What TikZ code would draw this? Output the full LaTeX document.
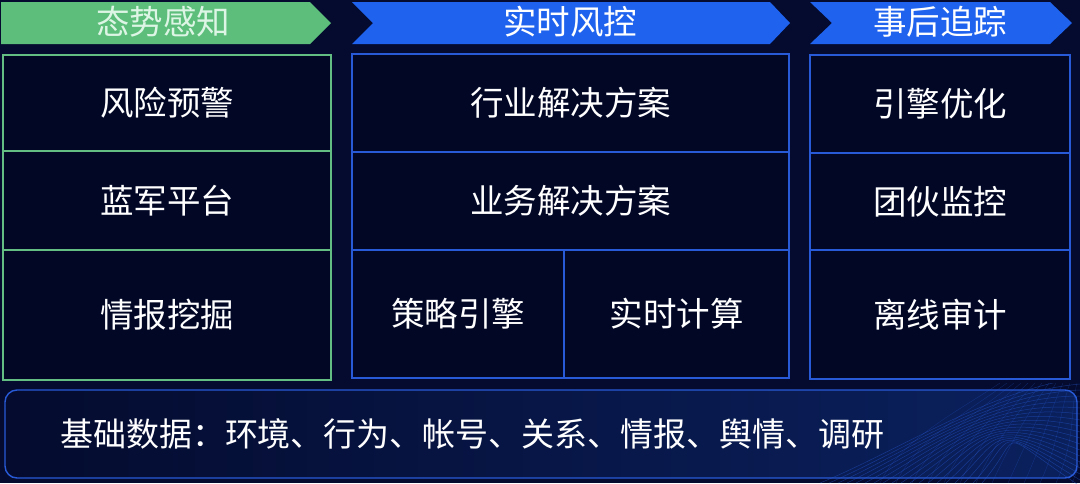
\documentclass[tikz,border=0pt]{standalone}
\usepackage{fontspec}
\setmainfont{Noto Sans CJK SC}
\definecolor{bgnavy}{RGB}{4,11,46}
\definecolor{cellnavy}{RGB}{2,7,38}
\definecolor{headgreen}{RGB}{92,190,122}
\definecolor{headblue}{RGB}{30,98,238}
\definecolor{linegreen}{RGB}{98,190,130}
\definecolor{lineblue}{RGB}{40,90,215}
\definecolor{mint}{RGB}{220,245,228}
\tikzset{
  cell/.style={draw, fill=cellnavy, text=white, inner sep=0pt,
    font=\fontsize{33.5}{36}\selectfont},
  greencell/.style={cell, draw=linegreen, line width=2.5pt},
  bluecell/.style={cell, draw=lineblue, line width=1.4pt},
  headtext/.style={text=white, font=\fontsize{33.5}{36}\selectfont}
}

\begin{document}
\begin{tikzpicture}[x=1pt,y=-1pt]
  \useasboundingbox (0,0) rectangle (1080,483);
  \fill[bgnavy] (0,0) rectangle (1080,483);
  % headers
  \fill[headgreen] (1,2) -- (310,2) -- (331,23) -- (310,44) -- (1,44) -- cycle;
  \node[headtext, text=mint] (tsgz) at (163,22) {态势感知};
  \fill[headblue] (352,2) -- (770,2) -- (790,23) -- (770,44) -- (352,44) -- (373,23) -- cycle;
  \node[headtext] (sshk) at (570,22) {实时风控};
  \fill[headblue] (810,2) -- (1050,2) -- (1072,23) -- (1050,44) -- (810,44) -- (832,23) -- cycle;
  \node[headtext] (shzz) at (940,22) {事后追踪};
  % left column
  \node[greencell, minimum width=328, minimum height=96]  (fxyj) at (167,103)   {风险预警};
  \node[greencell, minimum width=328, minimum height=99]  (ljpt) at (167,200.5) {蓝军平台};
  \node[greencell, minimum width=328, minimum height=130] (qbwj) at (167,315)   {情报挖掘};
  % middle column
  \node[bluecell, minimum width=437, minimum height=98]  (hyjj) at (570.5,103) {行业解决方案};
  \node[bluecell, minimum width=437, minimum height=98]  (ywjj) at (570.5,201) {业务解决方案};
  \node[bluecell, minimum width=212, minimum height=128] (clyq) at (458,314)   {策略引擎};
  \node[bluecell, minimum width=225, minimum height=128] (ssjs) at (676.5,314) {实时计算};
  % right column
  \node[bluecell, minimum width=260, minimum height=98]  (yqyh) at (940,104)   {引擎优化};
  \node[bluecell, minimum width=260, minimum height=97]  (thjk) at (940,201.5) {团伙监控};
  \node[bluecell, minimum width=260, minimum height=129] (lxsj) at (940,314.5) {离线审计};
  % base data
  \node[draw=lineblue, line width=1.4pt, rounded corners=12pt,
        left color=bgnavy, right color=headblue!25!bgnavy,
        text=white, font=\fontsize{33}{36}\selectfont,
        text width=962pt, align=left, inner xsep=55pt, minimum height=88]
       (jcsj) at (541,434) {基础数据：环境、行为、帐号、关系、情报、舆情、调研};
  % mesh
  \begin{scope}
    \clip (800,383) rectangle (1080,483);
    \foreach \i in {0,...,18}
      \draw[lineblue, opacity=0.45, line width=0.5pt]
        (820+\i*9,483) .. controls (900+\i*7,450-\i) and (990,390+\i*2) .. (1080,378+\i*6);
    \foreach \j in {0,...,12}
      \draw[lineblue, opacity=0.3, line width=0.4pt]
        (880+\j*16,483) .. controls (900+\j*16,440) and (960+\j*10,410) .. (1000+\j*7,383);
  \end{scope}
\end{tikzpicture}
\end{document}
